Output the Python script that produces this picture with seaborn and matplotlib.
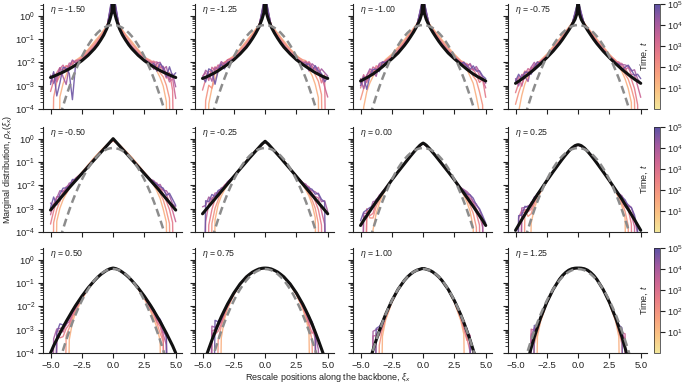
import numpy as np
import pandas as pd
import matplotlib
matplotlib.use("Agg")
import matplotlib.pyplot as plt
import seaborn as sns
from matplotlib.colors import LinearSegmentedColormap, LogNorm
from matplotlib.cm import ScalarMappable
from matplotlib.ticker import LogLocator, NullFormatter

# ---------------- data (log10 of densities) ----------------
eta_labels = ["-1.50", "-1.25", "-1.00", "-0.75", "-0.50", "-0.25", "0.00", "0.25",
              "0.50", "0.75", "1.00", "1.25"]

# half grid (x >= 0) of the black theory curves; mirrored for x < 0
x_black_half = [0, 0.1, 0.25, 0.5, 0.75, 1, 1.25, 1.5, 2, 2.5, 3, 3.25, 3.5, 3.75, 4, 4.25, 4.5, 4.75, 5]
bk_m150 = [1.2, 0.15, -0.15, -0.55, -0.83, -1.05, -1.25, -1.42, -1.70, -1.93, -2.12, -2.20, -2.28, -2.35, -2.42, -2.48, -2.54, -2.60, -2.65]
bk_m125 = [1.0, 0.12, -0.15, -0.5, -0.75, -0.97, -1.17, -1.35, -1.64, -1.89, -2.09, -2.18, -2.27, -2.36, -2.44, -2.51, -2.58, -2.64, -2.69]
bk_m100 = [0.9, 0.1, -0.16, -0.45, -0.69, -0.9, -1.1, -1.28, -1.6, -1.85, -2.08, -2.19, -2.3, -2.4, -2.5, -2.58, -2.66, -2.73, -2.8]
bk_m075 = [0.7, 0.08, -0.16, -0.4, -0.62, -0.82, -1.02, -1.2, -1.52, -1.8, -2.06, -2.18, -2.3, -2.41, -2.52, -2.62, -2.72, -2.81, -2.9]
bk_m050 = [0.0, -0.06, -0.15, -0.3, -0.45, -0.6, -0.75, -0.9, -1.2, -1.5, -1.8, -1.95, -2.1, -2.26, -2.42, -2.58, -2.74, -2.9, -3.06]
bk_m025 = [-0.11, -0.16, -0.23, -0.38, -0.53, -0.68, -0.83, -0.99, -1.3, -1.62, -1.94, -2.1, -2.26, -2.42, -2.58, -2.74, -2.9, -3.06, -3.22]
bk_000 = [-0.19, -0.22, -0.28, -0.42, -0.58, -0.74, -0.91, -1.08, -1.42, -1.77, -2.15, -2.33, -2.52, -2.71, -2.9, -3.1, -3.3, -3.5, -3.72]
bk_025 = [-0.26, -0.27, -0.3, -0.4, -0.54, -0.7, -0.87, -1.05, -1.42, -1.8, -2.2, -2.4, -2.6, -2.82, -3.03, -3.25, -3.47, -3.7, -3.93]
bk_050 = [-0.36, -0.37, -0.39, -0.45, -0.54, -0.64, -0.76, -0.9, -1.21, -1.57, -1.97, -2.19, -2.42, -2.65, -2.9, -3.15, -3.42, -3.69, -4.0]
bk_075 = [-0.36, -0.362, -0.37, -0.4, -0.46, -0.53, -0.63, -0.74, -1.04, -1.43, -1.9, -2.17, -2.45, -2.76, -3.1, -3.45, -3.82, -4.2, -4.6]
bk_100 = [-0.38, -0.382, -0.41, -0.45, -0.52, -0.62, -0.74, -0.89, -1.27, -1.76, -2.35, -2.69, -3.06, -3.45, -3.87, -4.3, -4.8, -5.3, -5.8]
bk_125 = [-0.36, -0.36, -0.365, -0.39, -0.45, -0.55, -0.68, -0.85, -1.28, -1.83, -2.5, -2.9, -3.32, -3.78, -4.27, -4.8, -5.35, -5.9, -6.5]

# dashed reference Gaussian (same in every panel), half grid
x_gauss_half = [0, 0.25, 0.5, 0.75, 1, 1.25, 1.5, 1.75, 2, 2.25, 2.5, 2.75, 3, 3.25, 3.5, 3.75, 4, 4.25, 4.5, 4.75, 5]
gauss_half = [-0.399, -0.413, -0.453, -0.521, -0.616, -0.738, -0.888, -1.064, -1.268, -1.498, -1.756, -2.041,
              -2.353, -2.692, -3.059, -3.452, -3.873, -4.320, -4.796, -5.298, -5.826]

# simulation curves: times and offsets (log10) from the black curve on the grid below; -9 = empty bin
times = [20, 100, 500, 2500, 12000, 60000]
x_sim = [-5, -4.75, -4.5, -4.25, -4, -3.75, -3.5, -3.25, -3, -2.5, -2, -1.5, -1, -0.5, 0,
         0.5, 1, 1.5, 2, 2.5, 3, 3.25, 3.5, 3.75, 4, 4.25, 4.5, 4.75, 5]

dev_m150 = [
    [-9, -9, -9, -1.0, -0.5, -0.2, 0.1, 0.15, 0.2, 0.2, 0.25, 0.3, 0.25, 0.12, -0.75, 0.12, 0.25, 0.3, 0.25, 0.15, 0.1, 0.05, -0.1, -0.3, -0.6, -1.2, -9, -9, -9],
    [-9, -0.9, -0.3, -0.1, 0.1, 0.2, 0.05, 0.2, 0.15, 0.15, 0.2, 0.22, 0.18, 0.08, -0.55, 0.08, 0.2, 0.22, 0.2, 0.15, 0.2, 0.1, 0.15, -0.1, -0.2, -0.5, -1.0, -9, -9],
    [-0.6, -0.2, 0.1, 0.25, 0.05, 0.2, 0.1, 0.25, 0.1, 0.1, 0.12, 0.14, 0.1, 0.05, -0.4, 0.05, 0.1, 0.12, 0.12, 0.1, 0.15, 0.25, 0.05, 0.2, 0.1, -0.2, 0.1, -0.6, -9],
    [-0.2, 0.15, -0.3, 0.2, 0.3, 0.0, 0.25, 0.1, 0.2, 0.05, 0.06, 0.07, 0.05, 0.02, -0.3, 0.02, 0.05, 0.08, 0.06, 0.05, 0.1, 0.2, 0.3, 0.1, 0.25, 0.0, -0.3, -0.1, -0.9],
    [0.1, -0.3, -0.1, 0.25, -0.2, -0.6, 0.1, 0.3, 0.1, 0.02, 0.03, 0.03, 0.02, 0.0, -0.2, 0.0, 0.02, 0.03, 0.03, 0.05, 0.05, -0.1, 0.25, 0.35, 0.1, 0.3, -0.2, 0.1, -0.4],
    [-0.3, 0.2, -0.9, -0.4, 0.2, 0.1, -0.2, -1.4, 0.0, 0.0, 0.0, 0.0, 0.0, 0.0, -0.1, 0.0, 0.0, 0.0, 0.0, 0.02, 0.0, 0.15, -0.1, 0.3, 0.2, -0.15, 0.35, 0.0, 0.2],
]
dev_m125 = [
    [-9, -9, -1.2, -0.6, -0.3, 0.0, 0.1, 0.2, 0.15, 0.18, 0.22, 0.26, 0.22, 0.1, -0.7, 0.1, 0.22, 0.26, 0.22, 0.2, 0.15, 0.1, -0.05, -0.2, -0.5, -1.0, -9, -9, -9],
    [-9, -1.0, -0.4, -0.6, 0.05, 0.15, 0.2, 0.05, 0.2, 0.14, 0.18, 0.2, 0.16, 0.07, -0.5, 0.07, 0.16, 0.2, 0.18, 0.15, 0.2, 0.25, 0.1, 0.15, -0.1, -0.3, -0.8, -9, -9],
    [-0.5, -0.1, 0.2, 0.1, 0.25, 0.05, 0.2, 0.15, 0.1, 0.1, 0.1, 0.12, 0.1, 0.04, -0.35, 0.04, 0.1, 0.12, 0.1, 0.1, 0.1, 0.2, 0.25, 0.05, 0.2, 0.1, -0.3, 0.1, -9],
    [0.1, 0.2, -0.2, 0.3, 0.1, 0.25, 0.0, 0.15, 0.2, 0.05, 0.05, 0.06, 0.05, 0.02, -0.25, 0.02, 0.05, 0.06, 0.05, 0.05, 0.1, 0.0, 0.3, 0.2, 0.1, 0.3, 0.0, -0.4, -0.8],
    [0.0, 0.3, 0.1, -0.3, 0.2, 0.1, 0.3, 0.1, 0.05, 0.02, 0.02, 0.02, 0.02, 0.0, -0.15, 0.0, 0.02, 0.02, 0.02, 0.03, 0.05, 0.2, -0.1, 0.3, 0.25, 0.0, 0.3, 0.2, 0.1],
    [0.05, -0.2, 0.3, 0.15, -0.5, 0.0, 0.2, -0.1, 0.1, 0.0, 0.0, 0.0, 0.0, 0.0, -0.1, 0.0, 0.0, 0.0, 0.0, 0.0, 0.0, 0.1, 0.2, 0.0, 0.3, 0.15, 0.1, -0.2, 0.05],
]
dev_m100 = [
    [-9, -1.2, -0.6, -0.3, -0.1, 0.05, 0.1, 0.15, 0.2, 0.2, 0.25, 0.25, 0.2, 0.1, -0.65, 0.1, 0.2, 0.25, 0.25, 0.2, 0.15, 0.05, 0.0, -0.2, -0.4, -0.9, -1.5, -9, -9],
    [-0.8, -0.4, -0.1, 0.0, 0.15, 0.1, 0.2, 0.1, 0.15, 0.15, 0.18, 0.18, 0.15, 0.07, -0.45, 0.07, 0.15, 0.18, 0.18, 0.15, 0.15, 0.2, 0.1, 0.05, -0.1, -0.2, -0.6, -1.1, -9],
    [-0.3, 0.0, 0.1, 0.2, 0.0, 0.25, 0.1, 0.2, 0.1, 0.1, 0.12, 0.12, 0.1, 0.05, -0.3, 0.05, 0.1, 0.12, 0.12, 0.1, 0.1, 0.15, 0.25, 0.1, 0.2, 0.05, -0.2, 0.0, -0.7],
    [-0.1, 0.2, -0.2, 0.1, 0.3, 0.1, 0.2, 0.0, 0.15, 0.05, 0.06, 0.06, 0.05, 0.02, -0.2, 0.02, 0.05, 0.06, 0.06, 0.05, 0.08, 0.1, 0.2, 0.3, 0.15, 0.3, 0.1, 0.0, -0.3],
    [0.1, -0.4, 0.1, 0.3, 0.1, -0.2, 0.25, 0.2, 0.1, 0.02, 0.02, 0.02, 0.02, 0.0, -0.12, 0.0, 0.02, 0.02, 0.02, 0.03, 0.05, 0.15, 0.1, 0.35, 0.2, 0.4, 0.25, 0.1, -0.1],
    [-0.2, 0.1, -0.5, 0.0, 0.2, 0.1, -0.1, 0.2, 0.05, 0.0, 0.0, 0.0, 0.0, 0.0, -0.08, 0.0, 0.0, 0.0, 0.0, 0.0, 0.0, 0.2, 0.15, 0.1, 0.35, 0.2, 0.3, 0.15, 0.1],
]
dev_m075 = [
    [-9, -1.3, -0.7, -0.3, -0.1, 0.0, 0.1, 0.1, 0.15, 0.15, 0.2, 0.2, 0.15, 0.08, -0.55, 0.08, 0.15, 0.2, 0.2, 0.15, 0.1, 0.0, -0.1, -0.3, -0.6, -1.1, -9, -9, -9],
    [-0.9, -0.5, -0.2, 0.0, 0.1, 0.15, 0.1, 0.2, 0.1, 0.12, 0.15, 0.15, 0.12, 0.05, -0.4, 0.05, 0.12, 0.15, 0.15, 0.12, 0.15, 0.1, 0.05, -0.1, -0.2, -0.5, -0.9, -9, -9],
    [-0.4, -0.1, 0.1, 0.25, 0.05, 0.2, 0.0, 0.15, 0.1, 0.08, 0.1, 0.1, 0.08, 0.03, -0.28, 0.03, 0.08, 0.1, 0.1, 0.08, 0.1, 0.2, 0.1, 0.2, 0.0, -0.1, -0.4, -1.0, -9],
    [0.0, 0.2, -0.3, 0.1, 0.25, 0.05, 0.2, 0.1, 0.1, 0.04, 0.05, 0.05, 0.04, 0.01, -0.18, 0.01, 0.04, 0.05, 0.05, 0.05, 0.05, 0.15, 0.25, 0.1, 0.3, 0.1, 0.2, -0.2, -0.6],
    [0.2, -0.2, 0.2, 0.0, -0.3, 0.2, 0.3, 0.0, 0.05, 0.02, 0.02, 0.02, 0.02, 0.0, -0.1, 0.0, 0.02, 0.02, 0.02, 0.02, 0.05, 0.1, 0.2, 0.3, 0.35, 0.25, 0.4, 0.1, 0.0],
    [0.1, 0.3, 0.0, 0.2, 0.1, -0.1, 0.1, 0.2, 0.0, 0.0, 0.0, 0.0, 0.0, 0.0, -0.05, 0.0, 0.0, 0.0, 0.0, 0.0, 0.0, 0.1, 0.0, 0.2, 0.4, 0.3, 0.15, 0.3, 0.2],
]
dev_m050 = [
    [-9, -9, -0.8, -0.4, -0.2, -0.1, -0.05, 0.0, 0.05, 0.05, 0.08, 0.1, 0.08, 0.05, -0.1, 0.05, 0.08, 0.1, 0.08, 0.05, 0.0, -0.05, -0.15, -0.3, -0.6, -1.0, -9, -9, -9],
    [-9, -0.7, -0.3, -0.1, 0.05, -0.1, 0.05, 0.1, 0.05, 0.04, 0.05, 0.06, 0.05, 0.03, -0.08, 0.03, 0.05, 0.06, 0.05, 0.05, 0.05, 0.0, 0.1, -0.1, -0.2, -0.5, -0.9, -9, -9],
    [-0.6, -0.2, 0.1, -0.1, 0.2, 0.05, 0.1, 0.0, 0.1, 0.03, 0.03, 0.04, 0.03, 0.02, -0.06, 0.02, 0.03, 0.04, 0.03, 0.03, 0.05, 0.1, 0.0, 0.15, 0.05, -0.1, -0.3, -0.7, -9],
    [-0.2, 0.1, 0.25, 0.1, 0.0, 0.2, 0.1, 0.15, 0.05, 0.02, 0.02, 0.02, 0.02, 0.01, -0.04, 0.01, 0.02, 0.02, 0.02, 0.02, 0.05, 0.1, 0.2, 0.1, 0.25, 0.2, 0.0, -0.2, -0.5],
    [0.3, 0.0, 0.2, 0.35, 0.15, 0.1, 0.2, 0.05, 0.1, 0.01, 0.01, 0.01, 0.01, 0.0, -0.02, 0.0, 0.01, 0.01, 0.01, 0.01, 0.05, 0.15, 0.1, 0.3, 0.2, 0.35, 0.3, 0.1, 0.15],
    [0.1, 0.4, -0.1, 0.2, 0.3, 0.15, 0.05, 0.2, 0.05, 0.0, 0.0, 0.0, 0.0, 0.0, -0.01, 0.0, 0.0, 0.0, 0.0, 0.0, 0.0, 0.1, 0.15, 0.2, 0.3, 0.15, 0.4, 0.3, 0.2],
]
dev_m025 = [
    [-9, -9, -9, -9, -0.9, -0.4, -0.2, -0.1, -0.05, 0.0, 0.02, 0.03, 0.02, 0.02, -0.03, 0.02, 0.02, 0.03, 0.02, 0.0, -0.05, -0.1, -0.2, -0.4, -0.8, -9, -9, -9, -9],
    [-9, -9, -9, -0.9, -0.4, -0.2, 0.0, 0.05, 0.0, 0.02, 0.02, 0.02, 0.02, 0.01, -0.02, 0.01, 0.02, 0.02, 0.02, 0.02, 0.0, 0.05, -0.1, -0.2, -0.4, -0.9, -9, -9, -9],
    [-9, -9, -0.8, -0.3, 0.0, 0.1, 0.05, 0.1, 0.05, 0.01, 0.01, 0.01, 0.01, 0.0, -0.01, 0.0, 0.01, 0.01, 0.01, 0.01, 0.05, 0.1, 0.0, 0.1, -0.1, -0.3, -0.8, -9, -9],
    [-9, -0.5, 0.1, 0.2, 0.1, 0.15, 0.0, 0.1, 0.05, 0.01, 0.01, 0.01, 0.0, 0.0, 0.0, 0.0, 0.0, 0.01, 0.01, 0.01, 0.05, 0.1, 0.2, 0.05, 0.1, 0.2, -0.2, -0.6, -9],
    [0.3, 0.2, 0.4, 0.1, 0.25, 0.1, 0.15, 0.05, 0.1, 0.0, 0.0, 0.0, 0.0, 0.0, 0.0, 0.0, 0.0, 0.0, 0.0, 0.0, 0.05, 0.15, 0.1, 0.2, 0.3, 0.35, 0.2, 0.4, 0.1],
    [-9, 0.4, 0.2, 0.35, 0.1, 0.2, 0.1, 0.0, 0.05, 0.0, 0.0, 0.0, 0.0, 0.0, 0.0, 0.0, 0.0, 0.0, 0.0, 0.0, 0.0, 0.05, 0.15, 0.25, 0.2, 0.4, 0.3, 0.35, -9],
]
dev_000 = [
    [-9, -9, -9, -9, -1.0, -0.5, -0.25, -0.1, -0.05, 0.0, 0.0, 0.02, 0.02, 0.01, -0.02, 0.01, 0.02, 0.02, 0.0, 0.0, -0.05, -0.1, -0.2, -0.4, -0.9, -9, -9, -9, -9],
    [-9, -9, 0.2, -0.3, -0.5, -0.2, -0.1, 0.0, 0.0, 0.0, 0.01, 0.01, 0.01, 0.01, -0.01, 0.01, 0.01, 0.01, 0.01, 0.0, 0.0, 0.0, -0.05, -0.15, -0.3, -0.7, -9, -9, -9],
    [-9, -9, 0.3, -0.2, -0.3, 0.0, -0.05, 0.05, 0.0, 0.0, 0.0, 0.0, 0.0, 0.0, 0.0, 0.0, 0.0, 0.0, 0.0, 0.0, 0.02, 0.05, 0.1, 0.05, 0.1, -0.1, -0.4, -9, -9],
    [-9, 0.2, -0.1, 0.1, 0.0, 0.1, 0.05, 0.0, 0.05, 0.0, 0.0, 0.0, 0.0, 0.0, 0.0, 0.0, 0.0, 0.0, 0.0, 0.0, 0.05, 0.1, 0.2, 0.15, 0.2, 0.1, 0.05, -0.3, -9],
    [-9, 0.3, 0.1, 0.0, 0.2, 0.05, 0.1, 0.05, 0.0, 0.0, 0.0, 0.0, 0.0, 0.0, 0.0, 0.0, 0.0, 0.0, 0.0, 0.0, 0.05, 0.15, 0.25, 0.3, 0.2, 0.3, 0.25, 0.1, -9],
    [0.2, 0.35, 0.25, 0.15, 0.0, 0.1, 0.0, 0.05, 0.0, 0.0, 0.0, 0.0, 0.0, 0.0, 0.0, 0.0, 0.0, 0.0, 0.0, 0.0, 0.0, 0.1, 0.15, 0.3, 0.35, 0.25, 0.3, 0.2, 0.1],
]
dev_025 = [
    [-9, -9, -9, -9, -9, -0.8, -0.4, -0.2, -0.1, -0.03, 0.0, 0.0, 0.0, 0.0, 0.0, 0.0, 0.0, 0.0, 0.0, -0.03, -0.08, -0.15, -0.3, -0.6, -9, -9, -9, -9, -9],
    [-9, -9, -9, 0.2, -0.3, -0.4, -0.2, -0.1, -0.05, -0.02, 0.0, 0.0, 0.0, 0.0, 0.0, 0.0, 0.0, 0.0, 0.0, -0.02, -0.05, -0.1, -0.15, -0.3, -0.7, -9, -9, -9, -9],
    [-9, -9, 0.3, 0.1, -0.1, -0.2, -0.1, 0.0, -0.05, 0.0, 0.0, 0.0, 0.0, 0.0, 0.0, 0.0, 0.0, 0.0, 0.0, 0.0, -0.02, 0.0, -0.05, -0.1, 0.0, -0.4, -9, -9, -9],
    [-9, 0.3, 0.4, 0.2, 0.0, 0.1, -0.05, 0.05, 0.0, 0.0, 0.0, 0.0, 0.0, 0.0, 0.0, 0.0, 0.0, 0.0, 0.0, 0.0, 0.0, 0.05, 0.1, 0.0, 0.15, 0.0, -0.3, -9, -9],
    [-9, -9, 0.5, 0.3, 0.15, 0.0, 0.1, 0.0, 0.0, 0.0, 0.0, 0.0, 0.0, 0.0, 0.0, 0.0, 0.0, 0.0, 0.0, 0.0, 0.02, 0.05, 0.15, 0.1, 0.2, 0.3, 0.1, -0.4, -9],
    [-9, 0.4, 0.2, 0.35, 0.1, 0.05, 0.05, 0.05, 0.0, 0.0, 0.0, 0.0, 0.0, 0.0, 0.0, 0.0, 0.0, 0.0, 0.0, 0.0, 0.0, 0.05, 0.1, 0.2, 0.15, 0.3, 0.2, -0.2, -9],
]
dev_050 = [
    [-9, -9, -9, -9, -9, -9, -1.0, -0.5, -0.3, -0.15, -0.05, 0.0, 0.0, 0.0, 0.0, 0.0, 0.0, 0.0, -0.05, -0.12, -0.25, -0.35, -0.5, -0.8, -9, -9, -9, -9, -9],
    [-9, -9, -9, -9, -9, -0.6, -0.5, -0.3, -0.2, -0.1, -0.03, 0.0, 0.0, 0.0, 0.0, 0.0, 0.0, 0.0, -0.03, -0.08, -0.18, -0.2, -0.3, -0.5, -0.6, -9, -9, -9, -9],
    [-9, -9, 0.2, -0.2, -0.4, -0.3, -0.35, -0.2, -0.15, -0.06, -0.02, 0.0, 0.0, 0.0, 0.0, 0.0, 0.0, 0.0, -0.02, -0.05, -0.12, -0.1, -0.25, -0.2, -0.5, -9, -9, -9, -9],
    [-9, -9, 0.35, 0.1, -0.2, -0.1, -0.25, -0.1, -0.1, -0.04, 0.0, 0.0, 0.0, 0.0, 0.0, 0.0, 0.0, 0.0, 0.0, -0.03, -0.08, -0.05, -0.15, -0.1, -0.3, -0.5, -9, -9, -9],
    [-9, 0.3, 0.45, 0.2, 0.0, -0.15, -0.1, -0.05, -0.05, -0.02, 0.0, 0.0, 0.0, 0.0, 0.0, 0.0, 0.0, 0.0, 0.0, -0.02, -0.05, 0.0, -0.1, 0.05, -0.2, -0.1, -9, -9, -9],
    [-9, -9, 0.3, 0.4, 0.1, 0.0, -0.05, 0.0, 0.0, 0.0, 0.0, 0.0, 0.0, 0.0, 0.0, 0.0, 0.0, 0.0, 0.0, 0.0, 0.0, 0.05, 0.0, 0.1, 0.05, -0.2, -9, -9, -9],
]
dev_075 = [
    [-9, -9, -9, -9, -9, -9, -0.9, -0.4, -0.2, -0.08, -0.03, 0.0, 0.0, 0.0, 0.0, 0.0, 0.0, 0.0, -0.03, -0.08, -0.2, -0.35, -0.6, -9, -9, -9, -9, -9, -9],
    [-9, -9, -9, -9, -9, -0.7, -0.4, -0.25, -0.15, -0.06, -0.02, 0.0, 0.0, 0.0, 0.0, 0.0, 0.0, 0.0, -0.02, -0.06, -0.15, -0.25, -0.4, -0.7, -9, -9, -9, -9, -9],
    [-9, -9, -9, 0.3, -0.1, -0.3, -0.3, -0.15, -0.1, -0.04, 0.0, 0.0, 0.0, 0.0, 0.0, 0.0, 0.0, 0.0, 0.0, -0.04, -0.1, -0.15, -0.3, -0.4, 0.1, -9, -9, -9, -9],
    [-9, -9, -9, 0.4, 0.1, -0.1, -0.2, -0.1, -0.08, -0.03, 0.0, 0.0, 0.0, 0.0, 0.0, 0.0, 0.0, 0.0, 0.0, -0.03, -0.08, -0.1, -0.2, -0.1, -0.3, -9, -9, -9, -9],
    [-9, -9, -9, 0.6, 0.2, 0.0, -0.1, -0.05, -0.05, -0.02, 0.0, 0.0, 0.0, 0.0, 0.0, 0.0, 0.0, 0.0, 0.0, -0.02, -0.05, -0.05, -0.1, 0.0, -0.1, -0.4, -9, -9, -9],
    [-9, -9, -9, -9, 0.5, 0.1, 0.0, 0.0, 0.0, 0.0, 0.0, 0.0, 0.0, 0.0, 0.0, 0.0, 0.0, 0.0, 0.0, 0.0, 0.0, -0.05, 0.0, 0.1, 0.0, -9, -9, -9, -9],
]
dev_100 = [
    [-9, -9, -9, -9, -9, -9, -9, -0.6, -0.25, -0.08, -0.02, 0.0, 0.0, 0.0, 0.0, 0.0, 0.0, 0.0, -0.02, -0.08, -0.25, -0.5, -9, -9, -9, -9, -9, -9, -9],
    [-9, -9, -9, -9, -9, -9, -0.6, -0.3, -0.15, -0.05, 0.0, 0.0, 0.0, 0.0, 0.0, 0.0, 0.0, 0.0, 0.0, -0.05, -0.15, -0.3, -0.4, 0.2, -9, -9, -9, -9, -9],
    [-9, -9, -9, -9, -9, 0.3, -0.2, -0.2, -0.1, -0.03, 0.0, 0.0, 0.0, 0.0, 0.0, 0.0, 0.0, 0.0, 0.0, -0.03, -0.1, -0.2, -0.3, -0.5, -9, -9, -9, -9, -9],
    [-9, -9, -9, -9, 0.6, 0.2, -0.1, -0.1, -0.05, -0.02, 0.0, 0.0, 0.0, 0.0, 0.0, 0.0, 0.0, 0.0, 0.0, -0.02, -0.05, -0.1, -0.15, 0.1, -0.2, -9, -9, -9, -9],
    [-9, -9, -9, -9, 0.8, 0.45, 0.1, 0.0, 0.0, 0.0, 0.0, 0.0, 0.0, 0.0, 0.0, 0.0, 0.0, 0.0, 0.0, 0.0, -0.02, -0.05, 0.0, 0.2, -9, -9, -9, -9, -9],
    [-9, -9, -9, -9, -9, 0.5, 0.2, 0.05, 0.0, 0.0, 0.0, 0.0, 0.0, 0.0, 0.0, 0.0, 0.0, 0.0, 0.0, 0.0, 0.0, 0.0, 0.1, -0.1, -9, -9, -9, -9, -9],
]
dev_125 = [
    [-9, -9, -9, -9, -9, -9, -9, -0.4, -0.15, -0.05, 0.0, 0.0, 0.0, 0.0, 0.0, 0.0, 0.0, 0.0, 0.0, -0.05, -0.15, -0.4, -9, -9, -9, -9, -9, -9, -9],
    [-9, -9, -9, -9, -9, -9, -0.3, -0.2, -0.1, -0.03, 0.0, 0.0, 0.0, 0.0, 0.0, 0.0, 0.0, 0.0, 0.0, -0.03, -0.1, -0.2, -0.3, -9, -9, -9, -9, -9, -9],
    [-9, -9, -9, -9, -9, 0.6, 0.1, -0.1, -0.05, -0.02, 0.0, 0.0, 0.0, 0.0, 0.0, 0.0, 0.0, 0.0, 0.0, -0.02, -0.05, -0.05, 0.1, 0.4, -9, -9, -9, -9, -9],
    [-9, -9, -9, -9, -9, 0.8, 0.3, 0.0, 0.0, 0.0, 0.0, 0.0, 0.0, 0.0, 0.0, 0.0, 0.0, 0.0, 0.0, 0.0, 0.0, 0.0, 0.2, 0.6, -9, -9, -9, -9, -9],
    [-9, -9, -9, -9, -9, 0.5, 0.4, 0.1, 0.0, 0.0, 0.0, 0.0, 0.0, 0.0, 0.0, 0.0, 0.0, 0.0, 0.0, 0.0, 0.0, 0.1, 0.3, 0.2, -9, -9, -9, -9, -9],
    [-9, -9, -9, -9, -9, -9, 0.5, 0.1, 0.05, 0.0, 0.0, 0.0, 0.0, 0.0, 0.0, 0.0, 0.0, 0.0, 0.0, 0.0, 0.02, 0.1, 0.4, -9, -9, -9, -9, -9, -9],
]

black_sets = [bk_m150, bk_m125, bk_m100, bk_m075, bk_m050, bk_m025, bk_000, bk_025, bk_050, bk_075, bk_100, bk_125]
dev_sets = [dev_m150, dev_m125, dev_m100, dev_m075, dev_m050, dev_m025, dev_000, dev_025, dev_050, dev_075, dev_100, dev_125]

x_ticks = [-5.0, -2.5, 0.0, 2.5, 5.0]
y_ticks = [1e-4, 1e-3, 1e-2, 1e-1, 1e0]
cbar_ticks = [1e1, 1e2, 1e3, 1e4, 1e5]
sunset_colors = ['#f3e79b', '#fac484', '#f8a07e', '#eb7f86', '#ce6693', '#a059a0', '#5c53a5']

# ---------------- style ----------------
sns.set_theme(style="ticks")
plt.rcParams.update({
    "font.family": ["Liberation Sans", "DejaVu Sans"],
    "mathtext.fontset": "custom",
    "mathtext.rm": "Liberation Sans",
    "mathtext.it": "Liberation Sans:italic",
    "mathtext.bf": "Liberation Sans:bold",
    "axes.linewidth": 0.8,
    "axes.edgecolor": "#222222",
    "xtick.color": "#222222",
    "ytick.color": "#222222",
    "xtick.major.width": 0.8,
    "ytick.major.width": 0.8,
    "ytick.minor.width": 0.6,
    "xtick.major.size": 3.5,
    "ytick.major.size": 3.5,
    "ytick.minor.size": 2.0,
    "xtick.labelsize": 6.8,
    "ytick.labelsize": 6.8,
})

cmap = LinearSegmentedColormap.from_list("sunset", sunset_colors)
norm = LogNorm(vmin=1, vmax=1e5)

W, H = 685, 386
fig = plt.figure(figsize=(W / 100, H / 100), dpi=100)

col_left = [43, 195, 353, 508]
row_top = [4, 127, 248]
ax_w, ax_h = 139, 105

xb = np.array(x_black_half)
xs = np.array(x_sim)
xg = np.array(x_gauss_half)
x_full_black = np.concatenate([-xb[:0:-1], xb])
x_full_gauss = np.concatenate([-xg[:0:-1], xg])
g_half = np.array(gauss_half)
g_full = np.concatenate([g_half[:0:-1], g_half])

for i in range(12):
    r, c = divmod(i, 4)
    ax = fig.add_axes([col_left[c] / W, 1 - (row_top[r] + ax_h) / H, ax_w / W, ax_h / H])
    ax.set_yscale("log")

    bk = np.array(black_sets[i])
    bk_full = np.concatenate([bk[:0:-1], bk])
    # black value on the simulation grid (grid points are part of the black grid)
    bk_on_sim = np.array([bk_full[np.argmin(np.abs(x_full_black - xv))] for xv in xs])

    rows = []
    for t, dev in zip(times, dev_sets[i]):
        vals = bk_on_sim + np.array(dev)
        for xv, lv in zip(xs, vals):
            rows.append({"x": xv, "y": 10.0 ** lv, "t": t})
    df = pd.DataFrame(rows)
    sns.lineplot(data=df, x="x", y="y", hue="t", palette=cmap, hue_norm=norm,
                 estimator=None, sort=False, legend=False, linewidth=1.0, alpha=0.9, ax=ax)

    sns.lineplot(x=x_full_black, y=10.0 ** bk_full, color="#111111", linewidth=2.2,
                 estimator=None, sort=False, ax=ax)
    sns.lineplot(x=x_full_gauss, y=10.0 ** g_full, color="#8c8c8c", linewidth=1.8,
                 estimator=None, sort=False, ax=ax)
    ax.lines[-1].set_dashes((3.2, 1.8))

    ax.set_xlim(-5.6, 5.5)
    ax.set_ylim(1e-4, 10 ** 0.5)
    ax.set_xticks(x_ticks)
    ax.set_yticks(y_ticks)
    ax.yaxis.set_minor_locator(LogLocator(base=10, subs=np.arange(2, 10)))
    ax.yaxis.set_minor_formatter(NullFormatter())
    ax.set_xlabel("")
    ax.set_ylabel("")
    ax.tick_params(axis="both", which="major", pad=2)
    if c != 0:
        ax.tick_params(labelleft=False)
    if r != 2:
        ax.tick_params(labelbottom=False)
    sns.despine(ax=ax)
    ax.text(0.05, 0.945, r"$\eta$ = " + eta_labels[i], transform=ax.transAxes,
            ha="left", va="center", fontsize=6.3, color="#222222")

# colour bars
for r in range(3):
    cax = fig.add_axes([654 / W, 1 - (row_top[r] + ax_h) / H, 6 / W, ax_h / H])
    sm = ScalarMappable(norm=norm, cmap=cmap)
    cb = fig.colorbar(sm, cax=cax)
    cb.set_ticks(cbar_ticks)
    cb.minorticks_off()
    cb.outline.set_linewidth(0.5)
    cax.tick_params(labelsize=6.5, length=3.5, width=0.8, pad=1.5)
    cb.set_label(r"Time, $t$", fontsize=6.5, labelpad=3)
    cax.yaxis.set_label_position("left")

fig.text(8 / W, 1 - 170 / H, r"Marginal distribution, $\rho_x(\xi_x)$", rotation=90,
         ha="center", va="center", fontsize=6.5, color="#222222")
fig.text(328 / W, 1 - 377 / H, r"Rescale positions along the backbone, $\xi_x$",
         ha="center", va="center", fontsize=6.5, color="#222222")

fig.savefig("out.png", dpi=100)
